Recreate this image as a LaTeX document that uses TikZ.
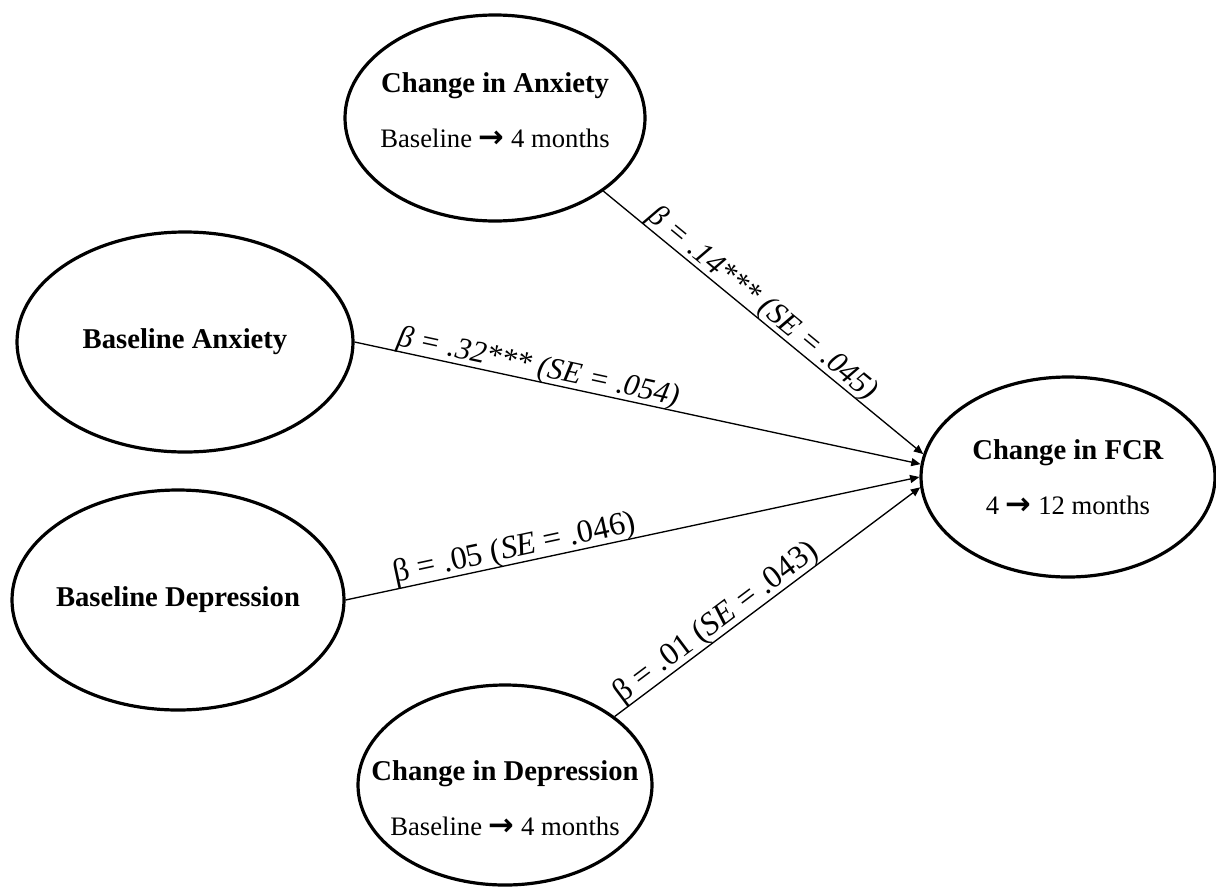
\documentclass[tikz,border=0pt]{standalone}
\usepackage{fontspec}
\setmainfont{Liberation Serif}
\newfontfamily\arrowfont{DejaVu Sans}
\usetikzlibrary{shapes.geometric,arrows.meta}
\newcommand{\rarr}{{\arrowfont\bfseries\fontsize{23}{23}\selectfont →}}
\newcommand{\subt}[1]{{\fontsize{20}{41}\selectfont #1}}
\begin{document}
\begin{tikzpicture}[x=0.75pt,y=-0.75pt,
  oval/.style={ellipse,draw,line width=2.4pt,inner sep=0pt},
  title/.style={align=center,inner sep=0pt,font=\fontsize{21.5}{41}\selectfont},
  conn/.style={line width=1pt,-{Triangle[length=7pt,width=6pt]}},
  lbl/.style={sloped,above=-1pt,inner sep=0pt,font=\fontsize{23}{27}\selectfont},
  lblb/.style={lbl,font=\fontsize{24.2}{28}\selectfont}]
\useasboundingbox (0,0) rectangle (1216,889);
% ellipses
\node[oval,minimum width=225pt,minimum height=154.5pt] (ca) at (495,118) {};
\node[oval,minimum width=252pt,minimum height=165pt] (ba) at (185,342) {};
\node[oval,minimum width=249pt,minimum height=165pt] (bd) at (178,600) {};
\node[oval,minimum width=220.5pt,minimum height=150pt] (cd) at (505,785) {};
\node[oval,minimum width=220.5pt,minimum height=150pt] (fcr) at (1068,477) {};
% texts
\node[title] (catxt) at (495,110) {\textbf{Change in Anxiety}\\\subt{Baseline \rarr{} 4 months}};
\node[title] (batxt) at (ba) {\textbf{Baseline Anxiety}};
\node[title] (bdtxt) at (bd) {\textbf{Baseline Depression}};
\node[title] (cdtxt) at (505,798) {\textbf{Change in Depression}\\\subt{Baseline \rarr{} 4 months}};
\node[title] (fcrtxt) at (fcr) {\textbf{Change in FCR}\\\subt{4 \rarr{} 12 months}};
% connectors
\draw[conn] (ca.-34) -- (fcr.171) node[lbl,pos=.47] {\textit{β = .14*** (SE = .045)}};
\draw[conn] (ba.east) -- (fcr.175) node[lbl,pos=.32] {\textit{β = .32*** (SE = .054)}};
\draw[conn] (bd.east) -- (fcr.180) node[lblb,pos=.30] {β = .05 (\textit{SE} = .046)};
\draw[conn] (cd.32) -- (fcr.184) node[lblb,pos=.36] {β = .01 (\textit{SE} = .043)};
\end{tikzpicture}
\end{document}
